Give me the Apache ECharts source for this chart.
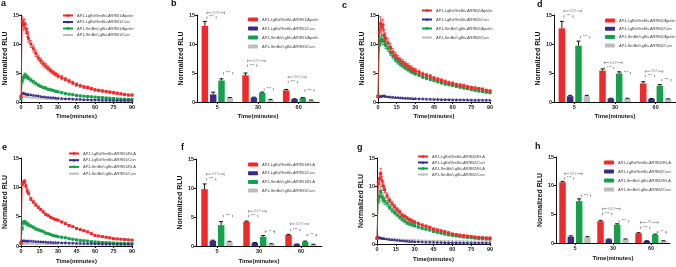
<!DOCTYPE html>
<html>
<head>
<meta charset="utf-8">
<script src="https://cdn.jsdelivr.net/npm/echarts@6/dist/echarts.min.js"></script>
<style>
  html, body { margin: 0; padding: 0; background: #fff; }
  #main { width: 676px; height: 267px; }
</style>
</head>
<body>
<div id="main"></div>
<script>
// sampling times (minutes) for the kinetic curves
const times = [0, 1, 2, 3, 4, 5, 6, 8, 10, 12, 14, 16, 18, 20, 22, 24, 26, 28, 30, 33, 36, 39, 42, 45, 48, 51, 54, 57, 60, 63, 66, 69, 72, 75, 78, 81, 84, 87, 90]

// a: ARRB1 / Apelin
const aRed = [1.0, 13.9, 13.3, 13.5, 12.6, 12.0, 11.0, 10.0, 9.2, 8.4, 7.6, 7.1, 6.6, 6.2, 5.8, 5.4, 5.1, 4.8, 4.5, 4.2, 3.9, 3.6, 3.3, 3.0, 2.8, 2.6, 2.5, 2.3, 2.1, 2.0, 1.9, 1.8, 1.7, 1.6, 1.5, 1.4, 1.3, 1.2, 1.2]
const aPur = [1.0, 1.5, 1.6, 1.5, 1.4, 1.4, 1.3, 1.3, 1.2, 1.15, 1.1, 1.0, 0.95, 0.9, 0.85, 0.8, 0.8, 0.75, 0.7, 0.65, 0.6, 0.6, 0.55, 0.5, 0.5, 0.45, 0.45, 0.4, 0.4, 0.4, 0.35, 0.35, 0.35, 0.3, 0.3, 0.3, 0.3, 0.3, 0.3]
const aGrn = [0.5, 3.6, 4.2, 4.6, 4.5, 4.3, 4.1, 3.8, 3.5, 3.2, 2.9, 2.7, 2.5, 2.4, 2.2, 2.1, 2.0, 1.85, 1.75, 1.6, 1.45, 1.35, 1.25, 1.15, 1.05, 1.0, 0.95, 0.9, 0.85, 0.8, 0.75, 0.7, 0.65, 0.6, 0.55, 0.5, 0.5, 0.45, 0.45]
const aGry = [0.8, 1.0, 1.0, 0.95, 0.95, 0.9, 0.9, 0.85, 0.8, 0.8, 0.75, 0.7, 0.7, 0.65, 0.65, 0.6, 0.6, 0.55, 0.55, 0.5, 0.5, 0.48, 0.45, 0.45, 0.42, 0.4, 0.4, 0.38, 0.36, 0.35, 0.35, 0.33, 0.32, 0.32, 0.3, 0.3, 0.3, 0.3, 0.3]
const aRedErr = [0.1, 0.8, 1.0, 0.8, 0.8, 0.7, 0.7, 0.6, 0.6, 0.55, 0.5, 0.5, 0.45, 0.45, 0.4, 0.4, 0.4, 0.35, 0.35, 0.35, 0.3, 0.3, 0.3, 0.3, 0.25, 0.25, 0.25, 0.25, 0.2, 0.2, 0.2, 0.2, 0.2, 0.2, 0.2, 0.15, 0.15, 0.15, 0.15]
const aGrnErr = [0.05, 0.4, 0.4, 0.4, 0.35, 0.3, 0.3, 0.3, 0.25, 0.25, 0.2, 0.2, 0.2, 0.2, 0.15, 0.15, 0.15, 0.15, 0.15, 0.12, 0.12, 0.1, 0.1, 0.1, 0.1, 0.1, 0.08, 0.08, 0.08, 0.08, 0.08, 0.06, 0.06, 0.06, 0.06, 0.05, 0.05, 0.05, 0.05]

// c: ARRB2 / Apelin
const cRed = [1.0, 12.0, 13.5, 12.8, 13.3, 11.5, 11.0, 10.2, 9.4, 8.6, 8.0, 7.5, 7.1, 6.8, 6.5, 6.2, 5.9, 5.6, 5.4, 5.1, 4.8, 4.6, 4.4, 4.1, 3.9, 3.7, 3.5, 3.3, 3.2, 3.0, 2.9, 2.8, 2.6, 2.5, 2.4, 2.3, 2.2, 2.0, 1.9]
const cPur = [0.9, 1.0, 1.0, 1.05, 1.1, 1.1, 1.0, 0.95, 0.9, 0.85, 0.8, 0.8, 0.75, 0.72, 0.7, 0.68, 0.65, 0.62, 0.6, 0.58, 0.55, 0.52, 0.5, 0.48, 0.46, 0.45, 0.44, 0.42, 0.4, 0.4, 0.38, 0.38, 0.37, 0.36, 0.35, 0.35, 0.35, 0.35, 0.35]
const cGrn = [1.0, 9.8, 10.5, 10.8, 10.6, 10.5, 9.8, 9.2, 8.5, 7.9, 7.3, 6.9, 6.5, 6.2, 5.9, 5.6, 5.3, 5.1, 4.9, 4.6, 4.3, 4.1, 3.9, 3.7, 3.5, 3.3, 3.1, 3.0, 2.85, 2.7, 2.55, 2.4, 2.3, 2.15, 2.0, 1.9, 1.8, 1.7, 1.6]
const cGry = [1.0, 1.0, 0.98, 0.96, 0.95, 0.95, 0.93, 0.9, 0.88, 0.85, 0.83, 0.8, 0.78, 0.76, 0.74, 0.72, 0.7, 0.68, 0.66, 0.64, 0.62, 0.6, 0.58, 0.56, 0.55, 0.53, 0.52, 0.5, 0.49, 0.48, 0.47, 0.46, 0.45, 0.44, 0.43, 0.42, 0.42, 0.41, 0.4]
const cRedErr = [0.1, 1.5, 1.2, 1.3, 1.0, 1.0, 0.9, 0.8, 0.7, 0.6, 0.6, 0.5, 0.5, 0.5, 0.45, 0.45, 0.4, 0.4, 0.4, 0.4, 0.35, 0.35, 0.35, 0.3, 0.3, 0.3, 0.3, 0.3, 0.25, 0.25, 0.25, 0.25, 0.25, 0.2, 0.2, 0.2, 0.2, 0.2, 0.2]
const cGrnErr = [0.1, 1.0, 0.8, 0.8, 0.7, 0.7, 0.6, 0.5, 0.5, 0.45, 0.4, 0.4, 0.35, 0.35, 0.35, 0.3, 0.3, 0.3, 0.3, 0.25, 0.25, 0.25, 0.25, 0.2, 0.2, 0.2, 0.2, 0.2, 0.2, 0.15, 0.15, 0.15, 0.15, 0.15, 0.15, 0.15, 0.15, 0.15, 0.15]

// e: ARRB1 / ELA
const eRed = [0.5, 10.6, 10.8, 11.0, 10.2, 9.4, 9.0, 8.0, 7.5, 7.0, 6.6, 6.2, 5.8, 5.4, 5.2, 4.9, 4.7, 4.5, 4.4, 4.1, 3.8, 3.5, 3.3, 3.0, 2.8, 2.6, 2.4, 2.1, 1.8, 1.7, 1.6, 1.5, 1.4, 1.25, 1.2, 1.15, 1.1, 1.05, 1.0]
const ePur = [0.8, 0.9, 0.95, 0.95, 0.9, 0.9, 0.9, 0.88, 0.85, 0.82, 0.8, 0.78, 0.75, 0.73, 0.7, 0.68, 0.66, 0.65, 0.63, 0.6, 0.58, 0.56, 0.54, 0.52, 0.5, 0.48, 0.46, 0.45, 0.43, 0.42, 0.4, 0.39, 0.38, 0.37, 0.36, 0.35, 0.35, 0.34, 0.33]
const eGrn = [0.5, 3.0, 4.0, 4.1, 3.9, 3.8, 3.6, 3.4, 3.2, 2.9, 2.75, 2.6, 2.45, 2.2, 2.1, 1.95, 1.8, 1.7, 1.6, 1.5, 1.4, 1.25, 1.15, 1.05, 0.95, 0.9, 0.85, 0.75, 0.7, 0.65, 0.6, 0.58, 0.55, 0.5, 0.47, 0.45, 0.43, 0.41, 0.4]
const eGry = [0.5, 0.5, 0.5, 0.5, 0.5, 0.5, 0.5, 0.48, 0.48, 0.47, 0.46, 0.45, 0.45, 0.44, 0.43, 0.42, 0.42, 0.41, 0.4, 0.4, 0.39, 0.38, 0.37, 0.36, 0.35, 0.35, 0.34, 0.33, 0.32, 0.32, 0.31, 0.3, 0.3, 0.3, 0.3, 0.3, 0.3, 0.3, 0.3]
const eRedErr = [0.05, 0.3, 0.4, 0.3, 0.3, 0.3, 0.25, 0.25, 0.2, 0.2, 0.2, 0.2, 0.15, 0.15, 0.15, 0.15, 0.15, 0.15, 0.12, 0.12, 0.12, 0.1, 0.1, 0.1, 0.1, 0.1, 0.1, 0.08, 0.08, 0.08, 0.08, 0.08, 0.08, 0.06, 0.06, 0.06, 0.06, 0.06, 0.06]
const eGrnErr = [0.05, 0.3, 0.35, 0.3, 0.3, 0.25, 0.25, 0.2, 0.2, 0.2, 0.15, 0.15, 0.15, 0.15, 0.12, 0.12, 0.12, 0.1, 0.1, 0.1, 0.1, 0.08, 0.08, 0.08, 0.08, 0.06, 0.06, 0.06, 0.06, 0.05, 0.05, 0.05, 0.05, 0.05, 0.05, 0.05, 0.05, 0.05, 0.05]

// g: ARRB2 / ELA
const gRed = [1.0, 10.5, 11.4, 12.3, 11.0, 10.1, 9.5, 8.4, 7.6, 7.0, 6.5, 6.0, 5.6, 5.0, 4.8, 4.5, 4.2, 4.0, 3.8, 3.55, 3.3, 3.1, 2.9, 2.6, 2.45, 2.3, 2.15, 1.95, 1.75, 1.65, 1.55, 1.45, 1.38, 1.3, 1.22, 1.16, 1.1, 1.07, 1.05]
const gPur = [1.2, 1.2, 1.15, 1.1, 1.05, 1.0, 0.95, 0.9, 0.85, 0.8, 0.75, 0.7, 0.65, 0.6, 0.57, 0.54, 0.5, 0.47, 0.45, 0.42, 0.4, 0.37, 0.35, 0.33, 0.31, 0.3, 0.28, 0.27, 0.25, 0.24, 0.23, 0.22, 0.22, 0.21, 0.2, 0.2, 0.2, 0.2, 0.2]
const gGrn = [1.0, 7.8, 8.2, 9.2, 8.2, 7.8, 7.5, 7.1, 6.4, 5.9, 5.5, 5.1, 4.7, 4.3, 4.0, 3.7, 3.5, 3.35, 3.2, 2.95, 2.75, 2.6, 2.45, 2.2, 2.05, 1.9, 1.75, 1.6, 1.5, 1.4, 1.3, 1.22, 1.15, 1.1, 1.02, 0.96, 0.92, 0.88, 0.85]
const gGry = [1.0, 1.0, 1.0, 0.98, 0.96, 0.95, 0.94, 0.92, 0.9, 0.88, 0.86, 0.84, 0.82, 0.8, 0.78, 0.76, 0.74, 0.72, 0.7, 0.68, 0.66, 0.64, 0.62, 0.6, 0.59, 0.58, 0.57, 0.56, 0.55, 0.54, 0.53, 0.52, 0.52, 0.51, 0.5, 0.5, 0.5, 0.5, 0.5]
const gRedErr = [0.1, 0.8, 1.0, 0.9, 0.8, 0.7, 0.6, 0.5, 0.45, 0.4, 0.4, 0.35, 0.35, 0.3, 0.3, 0.3, 0.25, 0.25, 0.25, 0.2, 0.2, 0.2, 0.2, 0.15, 0.15, 0.15, 0.15, 0.15, 0.12, 0.12, 0.12, 0.12, 0.1, 0.1, 0.1, 0.1, 0.1, 0.1, 0.1]
const gGrnErr = [0.1, 0.8, 0.9, 0.8, 0.7, 0.6, 0.6, 0.5, 0.45, 0.4, 0.4, 0.35, 0.35, 0.3, 0.3, 0.3, 0.25, 0.25, 0.25, 0.2, 0.2, 0.2, 0.2, 0.15, 0.15, 0.15, 0.15, 0.15, 0.12, 0.12, 0.12, 0.12, 0.1, 0.1, 0.1, 0.1, 0.1, 0.1, 0.1]

// bar panels: categories, means and errors (order: red, purple, green, grey)
const barCats = ['5', '30', '60']
const bMean = [[13.1, 4.6, 2.0], [1.3, 0.75, 0.5], [3.7, 1.6, 0.7], [0.7, 0.4, 0.3]]
const bErr = [[0.8, 0.4, 0.15], [0.4, 0.08, 0.05], [0.3, 0.1, 0.05], [0.08, 0.05, 0.05]]
const dMean = [[12.7, 5.4, 3.2], [1.0, 0.6, 0.55], [9.7, 4.9, 2.8], [1.0, 0.6, 0.5]]
const dErr = [[1.2, 0.3, 0.3], [0.15, 0.05, 0.05], [0.8, 0.3, 0.2], [0.15, 0.05, 0.05]]
const fMean = [[9.8, 4.2, 1.9], [0.9, 0.55, 0.3], [3.6, 1.6, 0.75], [0.7, 0.35, 0.25]]
const fErr = [[0.9, 0.1, 0.1], [0.1, 0.05, 0.05], [0.6, 0.2, 0.1], [0.1, 0.05, 0.05]]
const hMean = [[10.6, 3.8, 1.7], [1.1, 0.65, 0.35], [7.3, 3.2, 1.45], [1.0, 0.65, 0.35]]
const hErr = [[0.15, 0.15, 0.1], [0.15, 0.05, 0.05], [0.4, 0.15, 0.1], [0.1, 0.05, 0.05]]

// significance brackets: [category, from bar, to bar, height]
const bSig = [[0, 0, 2, 15.4], [0, 0, 1, 14.6], [0, 2, 3, 5.0], [1, 0, 2, 7.1], [1, 0, 1, 6.3], [1, 2, 3, 2.2], [2, 0, 2, 4.3], [2, 0, 1, 3.5], [2, 2, 3, 2.0]]
const bSigText = ['###', '***', '***', '###', '***', '***', '###', '***', '***']
const dSig = [[0, 0, 2, 15.7], [0, 0, 1, 14.8], [0, 2, 3, 11.2], [1, 0, 2, 6.8], [1, 0, 1, 5.9], [1, 2, 3, 5.0], [2, 0, 2, 5.3], [2, 0, 1, 4.5], [2, 2, 3, 3.8]]
const dSigText = ['###', '***', '***', '###', '***', '***', '###', '***', '***']
const fSig = [[0, 0, 2, 12.4], [0, 0, 1, 11.5], [0, 2, 3, 5.2], [1, 0, 2, 6.0], [1, 0, 1, 5.2], [1, 2, 3, 2.5], [2, 0, 2, 3.8], [2, 0, 1, 2.8], [2, 2, 3, 1.9]]
const fSigText = ['###', '***', '***', '###', '***', '**', '###', '***', '**']
const hSig = [[0, 0, 2, 12.1], [0, 0, 1, 11.3], [0, 2, 3, 8.3], [1, 0, 2, 6.0], [1, 0, 1, 5.1], [1, 2, 3, 3.8], [2, 0, 2, 3.6], [2, 0, 1, 2.7], [2, 2, 3, 1.9]]
const hSigText = ['###', '***', '***', '###', '***', '***', '##', '***', '**']

const names1 = ['APJ-LgBit/SmBit-ARRB1/Apelin', 'APJ-LgBit/SmBit-ARRB1/Con', 'APJ-SmBit/LgBit-ARRB1/Apelin', 'APJ-SmBit/LgBit-ARRB1/Con']
const names2 = ['APJ-LgBit/SmBit-ARRB2/Apelin', 'APJ-LgBit/SmBit-ARRB2/Con', 'APJ-SmBit/LgBit-ARRB2/Apelin', 'APJ-SmBit/LgBit-ARRB2/Con']
const names3 = ['APJ-LgBit/SmBit-ARRB1/ELA', 'APJ-LgBit/SmBit-ARRB1/Con', 'APJ-SmBit/LgBit-ARRB1/ELA', 'APJ-SmBit/LgBit-ARRB1/Con']
const names4 = ['APJ-LgBit/SmBit-ARRB2/ELA', 'APJ-LgBit/SmBit-ARRB2/Con', 'APJ-SmBit/LgBit-ARRB2/ELA', 'APJ-SmBit/LgBit-ARRB2/Con']

const COLORS = ['#ee2a2a', '#3a2b85', '#17a04b', '#bdbdbd']
const SYMBOLS = ['rect', 'triangle', 'rect', 'triangle']
const FONT = 'Liberation Sans, Arial, sans-serif'
const BW = 6.5 // bar width px
const STEP = 8.3 // bar centre spacing px

const panels = [
  { id: 'a', kind: 'line', vals: [aRed, aPur, aGrn, aGry], errs: [aRedErr, null, aGrnErr, null], names: names1, grid: { left: 21, top: 15, width: 111, height: 87 }, leg: { left: 62, top: 13.5, gap: 2.5 }, letter: { left: 1, top: -1 }, yGap: 12, xGap: 11 },
  { id: 'b', kind: 'bar', mean: bMean, err: bErr, sig: bSig, sigText: bSigText, names: names1, grid: { left: 197, top: 15, width: 122, height: 87 }, leg: { left: 248, top: 17.5, gap: 5 }, letter: { left: 171, top: -1 }, yGap: 12, xGap: 11 },
  { id: 'c', kind: 'line', vals: [cRed, cPur, cGrn, cGry], errs: [cRedErr, null, cGrnErr, null], names: names2, grid: { left: 378, top: 15, width: 112, height: 87 }, leg: { left: 421, top: 8.5, gap: 5 }, letter: { left: 342, top: 1 }, yGap: 12, xGap: 11 },
  { id: 'd', kind: 'bar', mean: dMean, err: dErr, sig: dSig, sigText: dSigText, names: names2, grid: { left: 554, top: 15, width: 123, height: 87 }, leg: { left: 605, top: 18.5, gap: 4.3 }, letter: { left: 537, top: 0 }, yGap: 9, xGap: 11 },
  { id: 'e', kind: 'line', vals: [eRed, ePur, eGrn, eGry], errs: [eRedErr, null, eGrnErr, null], names: names3, grid: { left: 21, top: 158, width: 111, height: 88 }, leg: { left: 68, top: 151.5, gap: 2.7 }, letter: { left: 2, top: 143 }, yGap: 12, xGap: 12 },
  { id: 'f', kind: 'bar', mean: fMean, err: fErr, sig: fSig, sigText: fSigText, names: names3, grid: { left: 196, top: 159, width: 126, height: 87 }, leg: { left: 248, top: 162.5, gap: 4.7 }, letter: { left: 181, top: 143 }, yGap: 10, xGap: 12 },
  { id: 'g', kind: 'line', vals: [gRed, gPur, gGrn, gGry], errs: [gRedErr, null, gGrnErr, null], names: names4, grid: { left: 377, top: 158, width: 113, height: 86 }, leg: { left: 417, top: 154.5, gap: 2 }, letter: { left: 357, top: 143 }, yGap: 11, xGap: 12 },
  { id: 'h', kind: 'bar', mean: hMean, err: hErr, sig: hSig, sigText: hSigText, names: names4, grid: { left: 556, top: 157, width: 114, height: 86 }, leg: { left: 604, top: 160.5, gap: 5 }, letter: { left: 535, top: 142 }, yGap: 11, xGap: 12 },
]

const tickLabel = { fontSize: 5.5, fontWeight: 'bold', color: '#222', fontFamily: FONT, margin: 2 }
const axisLine = { lineStyle: { color: '#111', width: 1 } }

const option = {
  animation: false,
  backgroundColor: '#fff',
  textStyle: { fontFamily: FONT },
  title: [],
  legend: [],
  grid: [],
  xAxis: [],
  yAxis: [],
  series: [],
}

panels.forEach((p, gi) => {
  option.title.push({
    text: p.id,
    left: p.letter.left,
    top: p.letter.top,
    padding: 0,
    textStyle: { fontSize: 9, fontWeight: 'bold', color: '#111', fontFamily: FONT },
  })
  option.grid.push(p.grid)
  option.yAxis.push({
    gridIndex: gi,
    type: 'value',
    min: 0,
    max: 15,
    interval: 5,
    name: 'Normalized RLU',
    nameLocation: 'middle',
    nameGap: p.yGap,
    nameTextStyle: { fontSize: 7, fontWeight: 'bold', color: '#111' },
    axisLine: { show: true, ...axisLine },
    axisTick: { show: true, length: 2, lineStyle: { color: '#111' } },
    axisLabel: tickLabel,
    splitLine: { show: false },
  })
  const xCommon = {
    gridIndex: gi,
    name: 'Time(minutes)',
    nameLocation: 'middle',
    nameGap: p.xGap,
    nameTextStyle: { fontSize: 6, fontWeight: 'bold', color: '#111' },
    axisLine: { show: true, onZero: false, ...axisLine },
    axisTick: { show: true, length: 2, lineStyle: { color: '#111' } },
    axisLabel: tickLabel,
    splitLine: { show: false },
  }
  const legNames = p.names.map((n) => p.id + '|' + n)
  option.legend.push({
    orient: 'vertical',
    left: p.leg.left,
    top: p.leg.top,
    padding: 0,
    itemGap: p.leg.gap,
    itemWidth: 10,
    itemHeight: p.kind === 'bar' ? 4 : 3,
    selectedMode: false,
    textStyle: { fontSize: 4, color: '#444', fontFamily: FONT, padding: [0, 0, 0, -1] },
    formatter: (n) => n.split('|')[1],
    data: legNames,
  })

  if (p.kind === 'line') {
    option.xAxis.push({ ...xCommon, type: 'value', min: 0, max: 90, interval: 15 })
    p.vals.forEach((arr, k) => {
      option.series.push({
        name: legNames[k],
        type: 'line',
        xAxisIndex: gi,
        yAxisIndex: gi,
        data: times.map((t, i) => [t, arr[i]]),
        symbol: SYMBOLS[k],
        symbolSize: 3,
        showSymbol: true,
        color: COLORS[k],
        lineStyle: { width: 0.8, color: COLORS[k] },
        itemStyle: { color: COLORS[k] },
        z: 10 - k,
      })
      const err = p.errs[k]
      if (!err) return
      // +/- error bars on the kinetic curve
      option.series.push({
        type: 'custom',
        xAxisIndex: gi,
        yAxisIndex: gi,
        silent: true,
        z: 9 - k,
        data: times.map((t, i) => [t, arr[i], err[i]]),
        renderItem: (params, api) => {
          const t = api.value(0)
          const m = api.value(1)
          const e = api.value(2)
          const lo = api.coord([t, m - e])
          const hi = api.coord([t, m + e])
          const st = { stroke: COLORS[k], lineWidth: 0.7 }
          return {
            type: 'group',
            children: [
              { type: 'line', shape: { x1: lo[0], y1: lo[1], x2: hi[0], y2: hi[1] }, style: st },
              { type: 'line', shape: { x1: hi[0] - 1.2, y1: hi[1], x2: hi[0] + 1.2, y2: hi[1] }, style: st },
              { type: 'line', shape: { x1: lo[0] - 1.2, y1: lo[1], x2: lo[0] + 1.2, y2: lo[1] }, style: st },
            ],
          }
        },
      })
    })
  } else {
    option.xAxis.push({
      ...xCommon,
      type: 'category',
      data: barCats,
      axisTick: { show: true, length: 2, alignWithLabel: true, lineStyle: { color: '#111' } },
      axisLabel: { ...tickLabel, interval: 0 },
    })
    p.mean.forEach((arr, k) => {
      option.series.push({
        name: legNames[k],
        type: 'bar',
        xAxisIndex: gi,
        yAxisIndex: gi,
        data: arr,
        barWidth: BW,
        barGap: '28%',
        itemStyle: { color: COLORS[k] },
      })
    })
    // error bars (upper whisker only)
    p.mean.forEach((arr, k) => {
      option.series.push({
        type: 'custom',
        xAxisIndex: gi,
        yAxisIndex: gi,
        silent: true,
        z: 3,
        data: arr.map((m, c) => [c, m, p.err[k][c]]),
        renderItem: (params, api) => {
          const c = api.value(0)
          const m = api.value(1)
          const e = api.value(2)
          const base = api.coord([c, m])
          const top = api.coord([c, m + e])
          const x = base[0] + (k - 1.5) * STEP
          const st = { stroke: '#111', lineWidth: 1 }
          return {
            type: 'group',
            children: [
              { type: 'line', shape: { x1: x, y1: base[1], x2: x, y2: top[1] }, style: st },
              { type: 'line', shape: { x1: x - 2, y1: top[1], x2: x + 2, y2: top[1] }, style: st },
            ],
          }
        },
      })
    })
    // significance brackets
    option.series.push({
      type: 'custom',
      xAxisIndex: gi,
      yAxisIndex: gi,
      silent: true,
      z: 4,
      data: p.sig,
      renderItem: (params, api) => {
        const c = api.value(0)
        const i = api.value(1)
        const j = api.value(2)
        const pt = api.coord([c, api.value(3)])
        const label = p.sigText[params.dataIndex]
        const x1 = pt[0] + (i - 1.5) * STEP + 2
        const x2 = pt[0] + (j - 1.5) * STEP + 3
        const y = pt[1]
        const mid = (x1 + x2) / 2
        const hw = label.length * 1.2 + 0.5
        const st = { stroke: '#666', lineWidth: 0.6 }
        return {
          type: 'group',
          children: [
            { type: 'line', shape: { x1: x1, y1: y, x2: mid - hw, y2: y }, style: st },
            { type: 'line', shape: { x1: mid + hw, y1: y, x2: x2, y2: y }, style: st },
            { type: 'line', shape: { x1: x1, y1: y - 1, x2: x1, y2: y + 1.5 }, style: st },
            { type: 'line', shape: { x1: x2, y1: y - 1, x2: x2, y2: y + 1.5 }, style: st },
            {
              type: 'text',
              x: mid,
              y: y,
              style: { text: label, align: 'center', verticalAlign: 'middle', fontSize: 4, fill: '#555', fontFamily: FONT },
            },
          ],
        }
      },
    })
  }
})

const chart = echarts.init(document.getElementById('main'), null, { renderer: 'canvas' })
chart.setOption(option)
</script>
</body>
</html>
